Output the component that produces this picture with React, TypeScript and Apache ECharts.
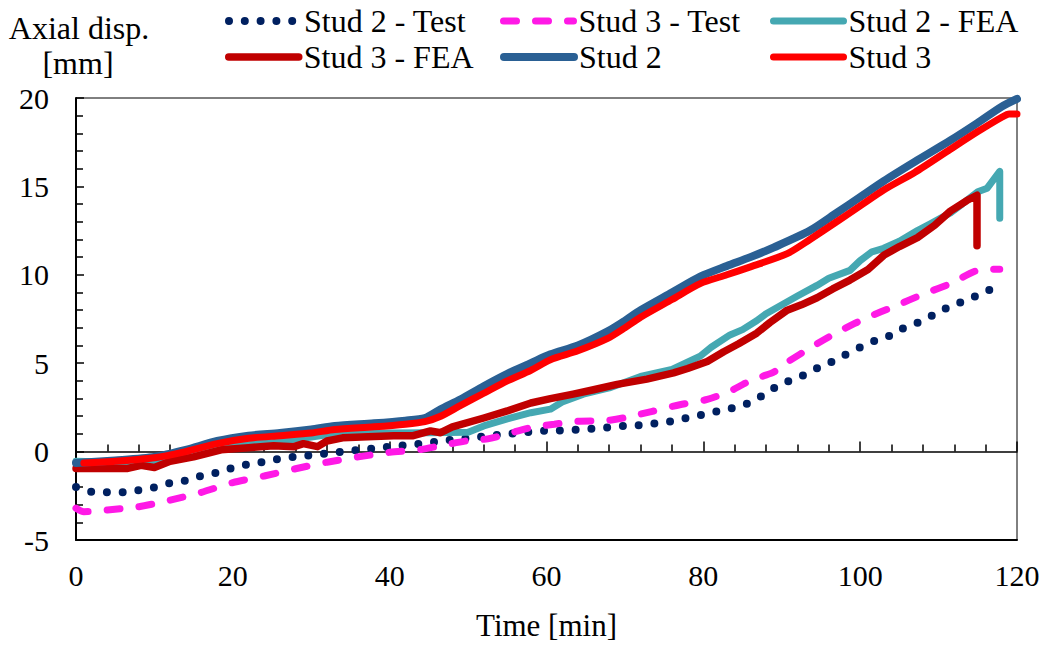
import React, { useEffect, useRef } from "react";
import * as echarts from "echarts";

const FONT = "'Liberation Serif', 'Times New Roman', serif";

const xTicks = [0, 20, 40, 60, 80, 100, 120];
const yTicks = [-5, 0, 5, 10, 15, 20];

const stud2TestTime = [0, 2, 4, 6, 8, 10, 12, 14, 16, 18, 20, 22, 24, 26, 28, 30, 32, 34, 36, 38, 40, 42, 44, 46, 48, 50, 52, 54, 56, 58, 60, 62, 64, 66, 68, 70, 72, 74, 76, 78, 80, 82, 84, 86, 88, 90, 92, 94, 96, 98, 100, 102, 104, 106, 108, 110, 112, 114, 116, 117.5];
const stud2TestDisp = [-2.0, -2.28, -2.3, -2.3, -2.18, -2.02, -1.78, -1.63, -1.37, -1.18, -0.92, -0.72, -0.57, -0.4, -0.29, -0.2, -0.1, -0.01, 0.1, 0.18, 0.28, 0.36, 0.45, 0.56, 0.68, 0.76, 0.86, 0.95, 1.04, 1.12, 1.18, 1.2, 1.24, 1.3, 1.38, 1.46, 1.5, 1.6, 1.72, 1.92, 2.1, 2.3, 2.5, 2.78, 3.3, 3.85, 4.15, 4.62, 5.0, 5.45, 5.9, 6.3, 6.6, 7.1, 7.4, 7.9, 8.3, 8.65, 9.05, 9.35];

const stud3TestTime = [0, 1, 4, 8, 12, 16, 20, 24, 28, 32, 36, 40, 44, 47, 50, 52.5, 55, 58, 61, 64, 67.5, 70, 73.5, 77, 80.5, 83.3, 85.5, 87.5, 89, 90.5, 94.5, 97.5, 101, 104.3, 108, 111.5, 115, 117.8];
const stud3TestDisp = [-3.2, -3.4, -3.3, -3.12, -2.75, -2.3, -1.75, -1.38, -0.97, -0.6, -0.3, -0.04, 0.12, 0.38, 0.62, 0.72, 1.0, 1.36, 1.55, 1.72, 1.75, 1.92, 2.28, 2.65, 2.95, 3.4, 3.9, 4.25, 4.5, 5.0, 6.1, 6.85, 7.6, 8.2, 8.9, 9.5, 10.25, 10.32];

const stud2FeaTime = [0, 5, 10, 15, 20, 23.6, 28, 32, 36, 40, 44.8, 50, 52, 55, 58, 60.5, 62, 64.7, 68, 72, 76, 79.6, 81, 83.4, 85, 86.8, 88, 90.2, 92, 94.5, 96, 98.7, 100, 101.5, 103, 105, 107.3, 109, 111.5, 113, 115, 116.2, 117.8, 117.8];
const stud2FeaDisp = [-0.55, -0.6, -0.55, -0.1, 0.3, 0.56, 0.7, 0.95, 1.0, 1.05, 1.07, 1.1, 1.45, 1.85, 2.2, 2.4, 2.8, 3.25, 3.6, 4.25, 4.65, 5.4, 5.9, 6.6, 6.9, 7.4, 7.8, 8.35, 8.8, 9.4, 9.8, 10.25, 10.8, 11.3, 11.5, 11.9, 12.5, 12.9, 13.5, 14.0, 14.7, 14.9, 15.85, 13.2];

const stud3FeaTime = [0, 6.6, 8.3, 10, 12, 15, 18.5, 22, 25.2, 27.8, 29, 30.8, 32, 34, 40.5, 43, 45.2, 46.5, 48, 52, 55, 58, 60.5, 63.4, 66, 69, 72.8, 76.2, 78, 80.5, 82.6, 84.5, 86.8, 88.5, 90.7, 92.5, 94.5, 96.5, 98.7, 101, 103, 105, 107.3, 109.5, 111.5, 113.6, 114.9, 114.9];
const stud3FeaDisp = [-0.95, -0.95, -0.78, -0.9, -0.55, -0.3, 0.1, 0.22, 0.33, 0.28, 0.45, 0.28, 0.6, 0.78, 0.9, 0.9, 1.17, 1.07, 1.4, 1.9, 2.3, 2.75, 3.0, 3.25, 3.5, 3.8, 4.1, 4.45, 4.7, 5.1, 5.65, 6.1, 6.7, 7.3, 8.0, 8.3, 8.7, 9.2, 9.7, 10.3, 11.1, 11.6, 12.1, 12.8, 13.6, 14.2, 14.5, 11.65];

const stud2Time = [0, 1, 5, 10, 14, 18, 22, 26, 30, 33, 38, 42, 44.5, 46.5, 49, 52, 55, 58, 60.5, 64, 67.8, 70, 72, 76, 79.6, 83, 86, 89, 93.6, 97, 100, 103, 107, 111.5, 115, 118, 120];
const stud2Disp = [-0.65, -0.62, -0.5, -0.3, 0.1, 0.6, 0.9, 1.05, 1.25, 1.45, 1.6, 1.75, 1.9, 2.4, 2.95, 3.7, 4.4, 5.0, 5.5, 6.0, 6.8, 7.4, 8.0, 9.0, 9.9, 10.5, 11.0, 11.55, 12.5, 13.5, 14.4, 15.3, 16.4, 17.6, 18.6, 19.5, 19.95];

const stud3Time = [1, 5, 10, 14, 18, 22, 26, 30, 33, 38, 42, 44.5, 46.5, 49, 52, 55, 58, 60.5, 64, 67.8, 70, 72, 76, 79.6, 83, 86, 90.7, 93.6, 97, 100, 103, 107, 111.5, 115, 118, 119, 120];
const stud3Disp = [-0.65, -0.55, -0.35, 0.0, 0.45, 0.75, 0.9, 1.05, 1.25, 1.4, 1.55, 1.7, 2.0, 2.6, 3.3, 4.0, 4.6, 5.2, 5.7, 6.4, 7.0, 7.6, 8.6, 9.5, 10.0, 10.45, 11.2, 12.0, 13.0, 13.9, 14.8, 15.8, 17.1, 18.1, 18.9, 19.1, 19.1];

const seriesNames = ["Stud 2 - Test", "Stud 3 - Test", "Stud 2 - FEA", "Stud 3 - FEA", "Stud 2", "Stud 3"];
const seriesColors = ["#002060", "#FF19E6", "#45A8B2", "#C00000", "#2A6094", "#FF0000"];

const zip = (t: number[], v: number[]) => t.map((x, i) => [x, v[i]]);

export default function App() {
  const ref = useRef<HTMLDivElement>(null);
  useEffect(() => {
    document.body.style.margin = "0";
    const chart = echarts.init(ref.current!, null, { renderer: "svg" });
    const datasets = [
      zip(stud2TestTime, stud2TestDisp),
      zip(stud3TestTime, stud3TestDisp),
      zip(stud2FeaTime, stud2FeaDisp),
      zip(stud3FeaTime, stud3FeaDisp),
      zip(stud2Time, stud2Disp),
      zip(stud3Time, stud3Disp),
    ];
    const lineStyles: any[] = [
      { width: 8, type: [0, 15.8], cap: "round" },
      { width: 7, type: [13, 19], cap: "round" },
      { width: 7, type: "solid", cap: "round", join: "round" },
      { width: 7.5, type: "solid", cap: "round", join: "round" },
      { width: 8, type: "solid", cap: "round", join: "round" },
      { width: 7, type: "solid", cap: "round", join: "round" },
    ];
    const smoothing = [0.25, 0.25, false, false, 0.25, 0.25];
    const legendPos = [
      [225, 5], [500, 5], [770, 5],
      [225, 41], [500, 41], [770, 41],
    ];
    chart.setOption({
      animation: false,
      grid: {
        left: 76, right: 26, top: 98, bottom: 100,
        show: true, borderColor: "#000", borderWidth: 1, backgroundColor: "transparent",
      },
      legend: seriesNames.map((n, i) => ({
        data: [n],
        left: legendPos[i][0],
        top: legendPos[i][1],
        padding: 0,
        itemGap: 0,
        itemWidth: 70,
        itemHeight: 14,
        selectedMode: false,
        itemStyle: { opacity: 0 },
        lineStyle: { width: "inherit", type: "inherit", cap: "inherit" },
        textStyle: { fontFamily: FONT, fontSize: 32, color: "#000" },
      })),
      xAxis: [
        {
          type: "value", min: xTicks[0], max: xTicks[xTicks.length - 1], interval: 20,
          position: "bottom",
          axisLine: { show: true, onZero: false, lineStyle: { color: "#000", width: 2 } },
          axisTick: { show: false },
          splitLine: { show: false },
          axisLabel: { fontFamily: FONT, fontSize: 30, color: "#000", margin: 20 },
          name: "Time [min]", nameLocation: "middle", nameGap: 70,
          nameTextStyle: { fontFamily: FONT, fontSize: 31, color: "#000" },
        },
        {
          type: "value", min: xTicks[0], max: xTicks[xTicks.length - 1], interval: 20,
          position: "top",
          axisLine: { show: true, onZero: true, lineStyle: { color: "#000", width: 1.5 } },
          axisTick: { show: true, inside: false, length: 10, lineStyle: { color: "#000", width: 1.5 } },
          minorTick: { show: true, splitNumber: 5, length: 7, lineStyle: { color: "#000", width: 1.5 } },
          splitLine: { show: false },
          axisLabel: { show: false },
        },
      ],
      yAxis: {
        type: "value", min: yTicks[0], max: yTicks[yTicks.length - 1], interval: 5,
        axisLine: { show: true, onZero: false, lineStyle: { color: "#000", width: 2 } },
        axisTick: { show: true, inside: true, length: 8, lineStyle: { color: "#000", width: 1.5 } },
        minorTick: { show: true, splitNumber: 5, length: 7, lineStyle: { color: "#000", width: 1.5 } },
        splitLine: { show: false },
        axisLabel: { fontFamily: FONT, fontSize: 30, color: "#000", margin: 27 },
      },
      graphic: [
        { type: "text", x: 79, y: 28, style: { text: "Axial disp.", font: `32px ${FONT}`, fill: "#000", align: "center", verticalAlign: "middle" } },
        { type: "text", x: 78, y: 63, style: { text: "[mm]", font: `32px ${FONT}`, fill: "#000", align: "center", verticalAlign: "middle" } },
      ],
      series: seriesNames.map((n, i) => ({
        name: n,
        type: "line",
        xAxisIndex: 0,
        yAxisIndex: 0,
        data: datasets[i],
        showSymbol: false,
        symbol: "none",
        smooth: smoothing[i],
        color: seriesColors[i],
        lineStyle: { color: seriesColors[i], ...lineStyles[i] },
        z: 2 + i,
      })),
    });
    return () => chart.dispose();
  }, []);
  return <div ref={ref} style={{ position: "absolute", left: 0, top: 0, width: 1043, height: 646 }} />;
}
